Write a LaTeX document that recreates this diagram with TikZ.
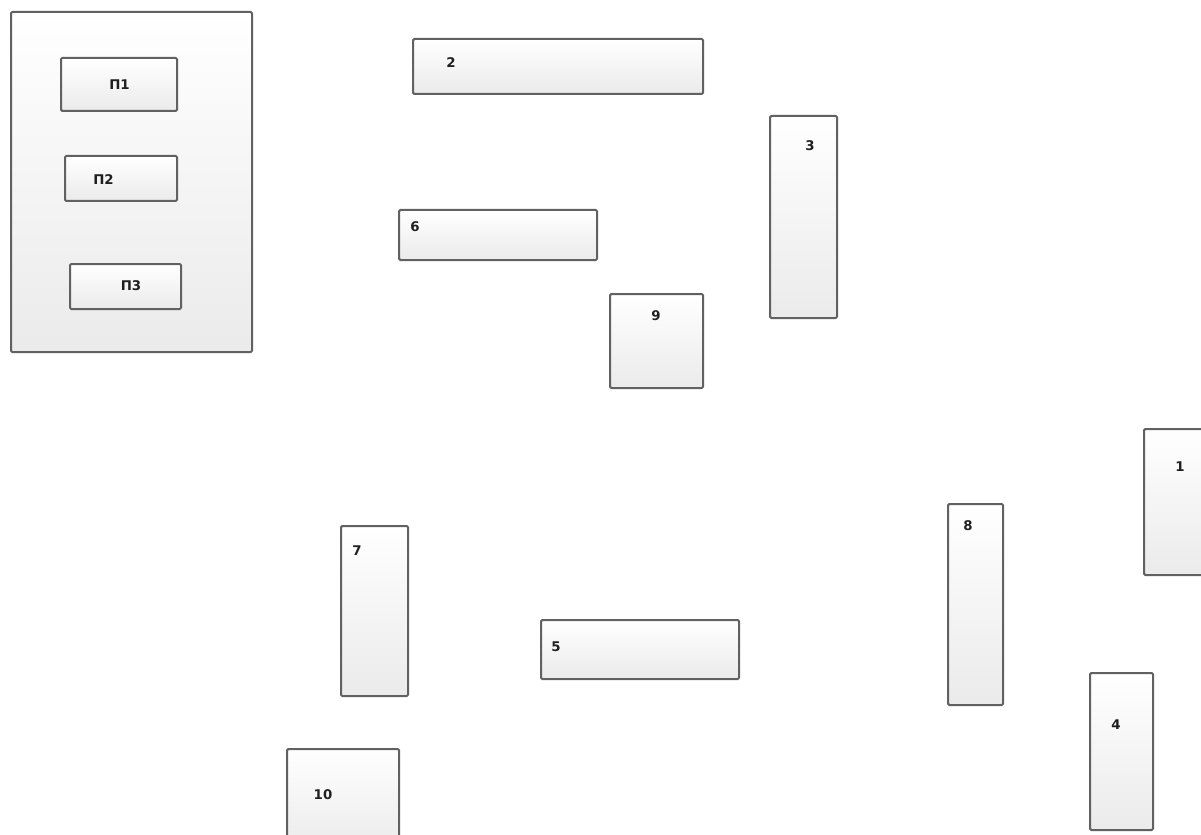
\documentclass[tikz,border=0pt]{standalone}
\usepackage{fontspec}
\setmainfont{DejaVu Sans}
\usetikzlibrary{fit}
\begin{document}
\begin{tikzpicture}[x=0.75pt,y=-0.75pt,
  box/.style={draw=black!62, line width=1.5pt, rounded corners=1pt,
    top color=white, bottom color=black!8, inner sep=0pt},
  lab/.style={font=\fontsize{10}{11}\selectfont\bfseries, text=black!88, inner sep=0pt}]
\useasboundingbox (0,0) rectangle (1201,834);
\clip (0,0) rectangle (1201,834);
% group box
\node[box, fit={(11,12) (252,352)}] (grp) {};
\node[box, fit={(61,58) (177,111)}] (p1) {};
\node[lab] (tp1) at (119.5,84.5) {П1};
\node[box, fit={(65,156) (177,201)}] (p2) {};
\node[lab] (tp2) at (103.5,179.5) {П2};
\node[box, fit={(70,264) (181,309)}] (p3) {};
\node[lab] (tp3) at (131,285.5) {П3};
% numbered boxes
\node[box, fit={(413,39) (703,94)}] (b2) {};
\node[lab] (t2) at (451,62.5) {2};
\node[box, fit={(770,116) (837,318)}] (b3) {};
\node[lab] (t3) at (810,146) {3};
\node[box, fit={(399,210) (597,260)}] (b6) {};
\node[lab] (t6) at (415,227) {6};
\node[box, fit={(610,294) (703,388)}] (b9) {};
\node[lab] (t9) at (656,316) {9};
\node[box, fit={(1144,429) (1215,575)}] (b1) {};
\node[lab] (t1) at (1180,467) {1};
\node[box, fit={(948,504) (1003,705)}] (b8) {};
\node[lab] (t8) at (968,526) {8};
\node[box, fit={(341,526) (408,696)}] (b7) {};
\node[lab] (t7) at (357,551) {7};
\node[box, fit={(541,620) (739,679)}] (b5) {};
\node[lab] (t5) at (556,647) {5};
\node[box, fit={(1090,673) (1153,830)}] (b4) {};
\node[lab] (t4) at (1116,725) {4};
\node[box, fit={(287,749) (399,850)}] (b10) {};
\node[lab] (t10) at (323,795) {10};
\end{tikzpicture}
\end{document}
